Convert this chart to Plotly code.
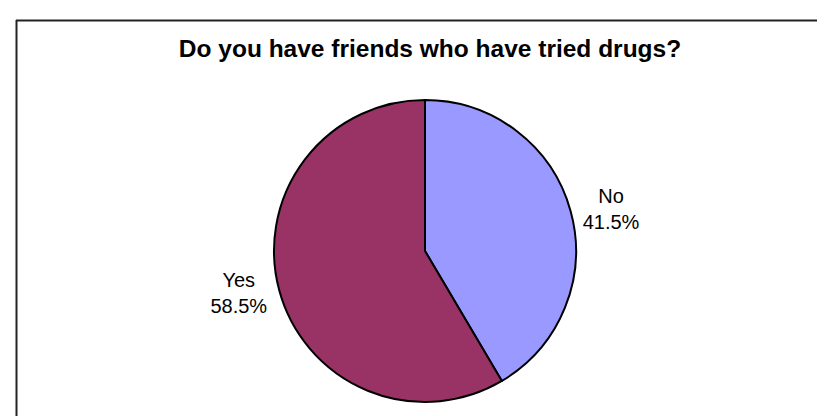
import plotly.graph_objects as go

title_text = "Do you have friends who have tried drugs?"
labels = ["No", "Yes"]
values = [41.5, 58.5]
colors = ["#9999FF", "#993366"]

W, H = 825, 416
cx, cy, r = 417, 243, 151

fig = go.Figure(go.Pie(
    labels=labels,
    values=values,
    sort=False,
    direction="clockwise",
    rotation=0,
    marker=dict(colors=colors, line=dict(color="black", width=2)),
    textposition="outside",
    texttemplate="%{label}<br>%{percent:.1%}",
    textfont=dict(family="Liberation Sans, Arial", size=20, color="black"),
    hole=0,
    showlegend=False,
    domain=dict(x=[(cx - r) / W, (cx + r) / W], y=[(H - cy - r) / H, (H - cy + r) / H]),
))

fig.update_layout(
    width=W, height=H,
    margin=dict(l=0, r=0, t=0, b=0),
    paper_bgcolor="white",
    plot_bgcolor="white",
    title=dict(
        text="<b>" + title_text + "</b>",
        x=422 / W, xanchor="center",
        y=1 - 40 / H, yanchor="middle", yref="container",
        font=dict(family="Liberation Sans, Arial", size=24.5, color="black"),
    ),
    shapes=[
        dict(type="line", xref="paper", yref="paper",
             x0=8 / W, x1=1.02, y0=1 - 12.5 / H, y1=1 - 12.5 / H,
             line=dict(color="#222222", width=2)),
        dict(type="line", xref="paper", yref="paper",
             x0=8.5 / W, x1=8.5 / W, y0=1 - 12 / H, y1=-0.02,
             line=dict(color="#222222", width=2)),
    ],
)

fig.write_html("out.html")
